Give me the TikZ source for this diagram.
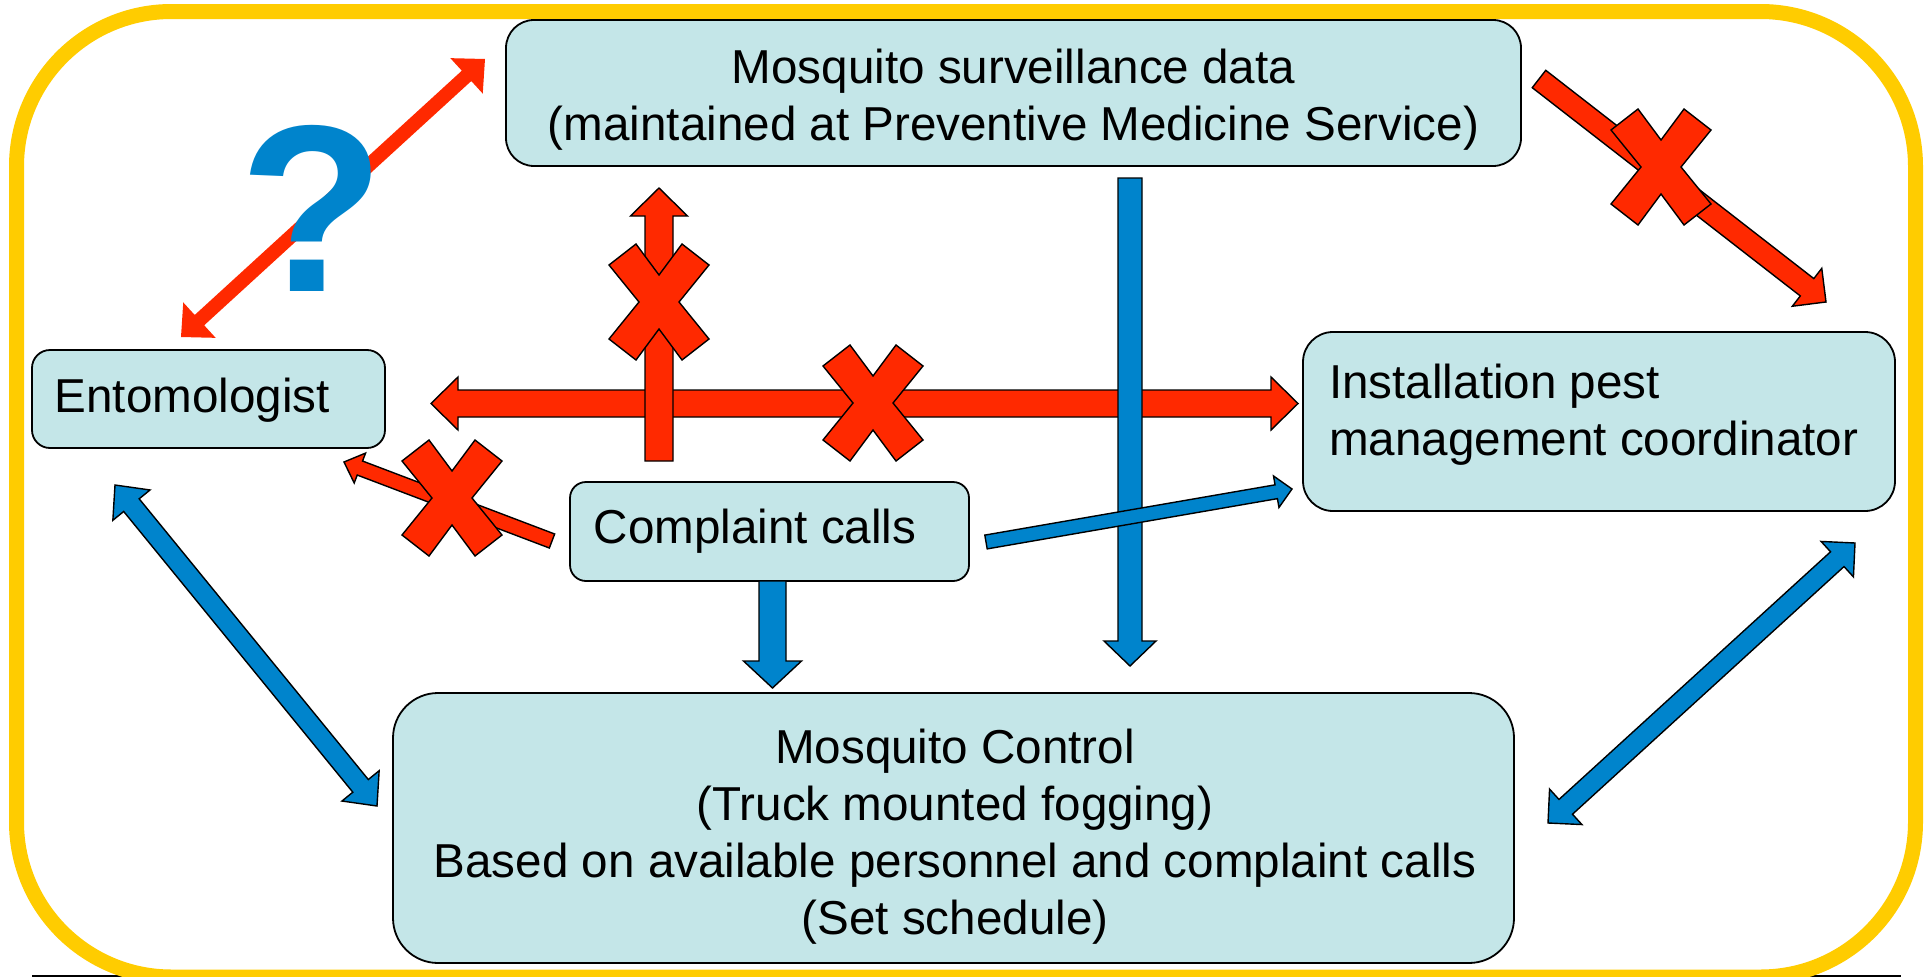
\documentclass[tikz,border=0pt]{standalone}
\usepackage{fontspec}
\setmainfont{Liberation Sans}
\usetikzlibrary{calc}
\definecolor{xred}{RGB}{255,41,0}
\definecolor{xblue}{RGB}{0,132,204}
\definecolor{boxfill}{RGB}{196,230,232}
\definecolor{frameyellow}{RGB}{255,204,0}
\tikzset{
  box/.style={draw=black, line width=1.8pt, fill=boxfill, rectangle, inner sep=0pt},
  txt/.style={inner sep=0pt, font=\fontsize{47.6}{57}\selectfont},
  redarrow/.style={fill=xred, draw=black, line width=1.4pt},
  redplain/.style={fill=xred},
  bluearrow/.style={fill=xblue, draw=black, line width=1.4pt},
  xmark/.style={fill=xred, draw=black, line width=1.4pt},
}
% single block arrow: #1 style, #2 from, #3 to, #4 half shaft, #5 half head, #6 head length
\newcommand{\blockarrow}[6]{%
  \coordinate (hb) at ($(#3)!#6!(#2)$);
  \path[#1] ($(#2)!#4!90:(#3)$) -- ($(hb)!#4!90:(#3)$) -- ($(hb)!#5!90:(#3)$) -- (#3)
    -- ($(hb)!#5!-90:(#3)$) -- ($(hb)!#4!-90:(#3)$) -- ($(#2)!#4!-90:(#3)$) -- cycle;
}
% double block arrow
\newcommand{\dblockarrow}[6]{%
  \coordinate (ha) at ($(#2)!#6!(#3)$);
  \coordinate (hb) at ($(#3)!#6!(#2)$);
  \path[#1] (#2) -- ($(ha)!#5!90:(#3)$) -- ($(ha)!#4!90:(#3)$) -- ($(hb)!#4!90:(#3)$)
    -- ($(hb)!#5!90:(#3)$) -- (#3) -- ($(hb)!#5!-90:(#3)$) -- ($(hb)!#4!-90:(#3)$)
    -- ($(ha)!#4!-90:(#3)$) -- ($(ha)!#5!-90:(#3)$) -- cycle;
}
% cross mark
\newcommand{\xmarkat}[1]{%
  \path[xmark, shift={(#1)}] (0,-27) -- (23,-58) -- (50,-37) -- (20,0) -- (50,37) -- (23,58)
    -- (0,27) -- (-23,58) -- (-50,37) -- (-20,0) -- (-50,-37) -- (-23,-58) -- cycle;
}
\begin{document}
\begin{tikzpicture}[x=1pt,y=-1pt]
\useasboundingbox (0,0) rectangle (1931,977);
\fill[white] (0,0) rectangle (1931,977);
\draw[line width=1.2pt] (32,976) -- (175,976);
\draw[line width=1.2pt] (1760,976) -- (1901,976);
\draw[frameyellow, line width=15pt, rounded corners=155pt] (16.5,11.5) rectangle (1915.5,977);

% boxes
\node[box, minimum width=1015pt, minimum height=146pt, rounded corners=28pt] (surv) at (1013.5,93) {};
\node[box, minimum width=353pt, minimum height=98pt, rounded corners=18pt] (ento) at (208.5,399) {};
\node[box, minimum width=592pt, minimum height=179pt, rounded corners=30pt] (ipm) at (1599,421.5) {};
\node[box, minimum width=399pt, minimum height=99pt, rounded corners=16pt] (cc) at (769.5,531.5) {};
\node[box, minimum width=1121pt, minimum height=270pt, rounded corners=45pt] (mc) at (953.5,828) {};

% texts
\node[txt, anchor=north, align=center] (survt) at (1013.5,49) {Mosquito surveillance data\\(maintained at Preventive Medicine Service)};
\node[txt, anchor=base west] (entot) at (54.5,412) {Entomologist};
\node[txt, anchor=north west, align=left] (ipmt) at (1329,364) {Installation pest\\management coordinator};
\node[txt, anchor=base west] (cct) at (593.5,543) {Complaint calls};
\node[txt, anchor=north, align=center] (mct) at (955,729) {Mosquito Control\\(Truck mounted fogging)\\Based on available personnel and complaint calls\\(Set schedule)};

% red double arrow entomologist <-> surveillance (no outline)
\coordinate (a1) at (181,337);
\coordinate (a2) at (485,59);
\dblockarrow{redplain}{a1}{a2}{7pt}{24pt}{25pt}
\node[inner sep=0pt, anchor=base, text=xblue, font=\fontsize{238}{238}\selectfont\bfseries] (qm) at (312,291) {?};

% red crossed arrows
\coordinate (c1) at (431,403.5);
\coordinate (c2) at (1298,403.5);
\dblockarrow{redarrow}{c1}{c2}{13.5pt}{26.5pt}{27pt}
\coordinate (b1) at (659,461);
\coordinate (b2) at (659,188);
\blockarrow{redarrow}{b1}{b2}{14pt}{28.5pt}{28pt}
\coordinate (d1) at (552,541);
\coordinate (d2) at (344,462);
\blockarrow{redarrow}{d1}{d2}{7.5pt}{16pt}{17pt}
\coordinate (e1) at (1539,79);
\coordinate (e2) at (1826,302);
\blockarrow{redarrow}{e1}{e2}{11pt}{24pt}{24pt}

% crosses
\coordinate (x1) at (659,302);
\coordinate (x2) at (873,403);
\coordinate (x3) at (452,498);
\coordinate (x4) at (1661,167);
\xmarkat{x1}
\xmarkat{x2}
\xmarkat{x3}
\xmarkat{x4}

% blue arrows
\coordinate (f1) at (1130,178);
\coordinate (f2) at (1130,666);
\blockarrow{bluearrow}{f1}{f2}{12pt}{26pt}{25pt}
\coordinate (h1) at (986,542);
\coordinate (h2) at (1292,489);
\blockarrow{bluearrow}{h1}{h2}{7pt}{16pt}{16pt}
\coordinate (g1) at (772.5,581);
\coordinate (g2) at (772.5,688);
\blockarrow{bluearrow}{g1}{g2}{13.5pt}{29pt}{27pt}
\coordinate (i1) at (115,485);
\coordinate (i2) at (377,806);
\dblockarrow{bluearrow}{i1}{i2}{10pt}{24pt}{26pt}
\coordinate (j1) at (1548,823);
\coordinate (j2) at (1855,543);
\dblockarrow{bluearrow}{j1}{j2}{10pt}{24pt}{24pt}
\end{tikzpicture}
\end{document}
